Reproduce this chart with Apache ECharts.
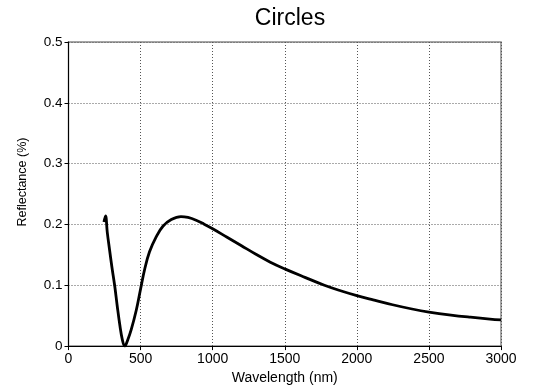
<!DOCTYPE html>
<html>
<head>
<meta charset="utf-8">
<script src="https://cdn.jsdelivr.net/npm/echarts@6/dist/echarts.min.js"></script>
<style>
  html, body { margin: 0; padding: 0; background: #fff; }
  #chart { width: 538px; height: 390px; }
</style>
</head>
<body>
<div id="chart"></div>
<script>
// values
const wavelength = [246, 257, 269, 285, 301, 320, 338, 357, 373, 390, 412, 435, 470, 500, 528, 562, 609, 655, 713, 780, 829, 885, 941, 1000, 1100, 1200, 1300, 1400, 1500, 1640, 1775, 1887, 2000, 2113, 2248, 2383, 2500, 2653, 2788, 2923, 3000];
const reflectance = [0.204, 0.214, 0.187, 0.158, 0.130, 0.100, 0.066, 0.033, 0.011, 0.000, 0.011, 0.027, 0.059, 0.094, 0.126, 0.155, 0.180, 0.197, 0.208, 0.213, 0.2115, 0.207, 0.2005, 0.193, 0.179, 0.165, 0.151, 0.138, 0.127, 0.113, 0.100, 0.091, 0.083, 0.076, 0.068, 0.061, 0.056, 0.051, 0.0475, 0.0445, 0.0432];
const xTicks = [0, 500, 1000, 1500, 2000, 2500, 3000];
const yTicks = [0, 0.1, 0.2, 0.3, 0.4, 0.5];

const font = '"Liberation Sans", Arial, sans-serif';
const chart = echarts.init(document.getElementById("chart"), null, { renderer: "canvas" });

chart.setOption({
  animation: false,
  title: {
    text: "Circles",
    left: 285,
    textAlign: "center",
    top: 2,
    textStyle: { fontFamily: font, fontSize: 23, fontWeight: "normal", color: "#000" }
  },
  grid: {
    left: 68.5, right: 37, top: 42, bottom: 43,
    show: true, borderColor: "#888", borderWidth: 1.5, backgroundColor: "transparent"
  },
  xAxis: {
    type: "value",
    min: xTicks[0],
    max: xTicks[xTicks.length - 1],
    interval: 500,
    name: "Wavelength (nm)",
    nameLocation: "middle",
    nameGap: 23,
    nameTextStyle: { fontFamily: font, fontSize: 14, color: "#000" },
    axisLine: { show: true, onZero: false, lineStyle: { color: "#000", width: 1 } },
    axisTick: { show: true, length: 4, lineStyle: { color: "#000" } },
    axisLabel: { fontFamily: font, fontSize: 14, color: "#000", margin: 6, formatter: (v) => String(v) },
    splitLine: { show: true, lineStyle: { color: "#555", type: [1, 2], width: 1 } }
  },
  yAxis: {
    type: "value",
    min: yTicks[0],
    max: yTicks[yTicks.length - 1],
    interval: 0.1,
    name: "Reflectance (%)",
    nameLocation: "middle",
    nameGap: 39,
    nameTextStyle: { fontFamily: font, fontSize: 12.5, color: "#000", padding: [0, 0, 0, 24] },
    axisLine: { show: true, onZero: false, lineStyle: { color: "#000", width: 1 } },
    axisTick: { show: true, length: 4, lineStyle: { color: "#000" } },
    axisLabel: { fontFamily: font, fontSize: 13.5, color: "#000", margin: 6, formatter: (v) => String(v) },
    splitLine: { show: true, lineStyle: { color: "#555", type: [1, 2], width: 1 } }
  },
  series: [{
    type: "line",
    data: wavelength.map((w, i) => [w, reflectance[i]]),
    showSymbol: false,
    smooth: 0.4,
    lineStyle: { color: "#000", width: 2.8 },
    z: 3
  }]
});
</script>
</body>
</html>
